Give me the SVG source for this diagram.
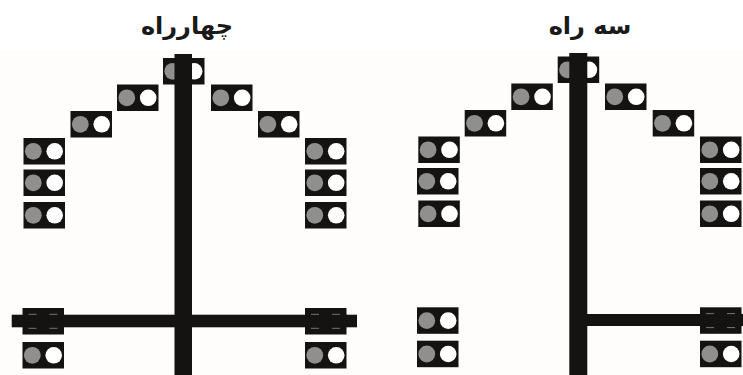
<svg xmlns="http://www.w3.org/2000/svg" width="743" height="375" viewBox="0 0 743 375">
<style>
.t{font-family:"DejaVu Sans",sans-serif;font-weight:bold;font-size:24px;fill:#1a1a1a;text-anchor:middle;direction:rtl}
.b{fill:#141311}
.g{fill:#8f8f8d}
.w{fill:#fff}
.s{stroke:#77756f;stroke-width:1;fill:none}
</style>
<defs>
<g id="sig"><rect class="b" width="41.500" height="26.500"/><circle class="g" cx="9.800" cy="13.300" r="8.400"/><circle class="w" cx="31.200" cy="13.300" r="8.300"/></g>
<g id="sigh"><rect class="b" width="41.500" height="26.500"/><path class="s" d="M6 6.300H14M27 6.300H35M6 20.300H14M27 20.300H35"/></g>
</defs>
<rect width="743" height="375" fill="#fff"/>
<rect y="50" width="743" height="325" fill="#fefdfb"/>
<text class="t" x="187" y="34">چهارراه</text>
<text class="t" x="590" y="34">سه راه</text>
<g id="left-signals">
<use id="l1" href="#sig" x="163" y="58"/>
<use id="l2" href="#sig" x="117" y="84.500"/>
<use id="l3" href="#sig" x="70.500" y="111"/>
<use id="l4" href="#sig" x="23.500" y="138"/>
<use id="l5" href="#sig" x="23.500" y="169.500"/>
<use id="l6" href="#sig" x="23.500" y="202"/>
<use id="l7" href="#sig" x="211" y="84.500"/>
<use id="l8" href="#sig" x="258" y="111"/>
<use id="l9" href="#sig" x="305" y="138"/>
<use id="l10" href="#sig" x="305" y="169.500"/>
<use id="l11" href="#sig" x="305" y="202"/>
<use id="l13" href="#sig" x="22.500" y="342"/>
<use id="l15" href="#sig" x="305" y="342"/>
</g>
<g id="right-signals">
<use id="r1" href="#sig" x="557.700" y="56.500"/>
<use id="r2" href="#sig" x="511.300" y="83.500"/>
<use id="r3" href="#sig" x="464.700" y="110"/>
<use id="r4" href="#sig" x="418.300" y="136.500"/>
<use id="r5" href="#sig" x="417" y="168"/>
<use id="r6" href="#sig" x="418.300" y="200.500"/>
<use id="r7" href="#sig" x="605" y="83.500"/>
<use id="r8" href="#sig" x="652.700" y="110"/>
<use id="r9" href="#sig" x="700" y="136.500"/>
<use id="r10" href="#sig" x="700" y="168"/>
<use id="r11" href="#sig" x="700" y="200.500"/>
<use id="r12" href="#sig" x="417" y="307.300"/>
<use id="r13" href="#sig" x="417" y="340.700"/>
<use id="r15" href="#sig" x="700" y="340.700"/>
</g>
<g id="connectors">
<rect class="b" x="174.500" y="54" width="17.500" height="321"/>
<rect class="b" x="11.700" y="314.700" width="345.300" height="12.600"/>
<rect class="b" x="569.300" y="53" width="18" height="322"/>
<rect class="b" x="587" y="314" width="156" height="12"/>
</g>
<g id="crossed-signals">
<use id="l12" href="#sigh" x="22.500" y="308"/>
<use id="l14" href="#sigh" x="305" y="308"/>
<use id="r14" href="#sigh" x="700" y="307.300"/>
</g>
</svg>
